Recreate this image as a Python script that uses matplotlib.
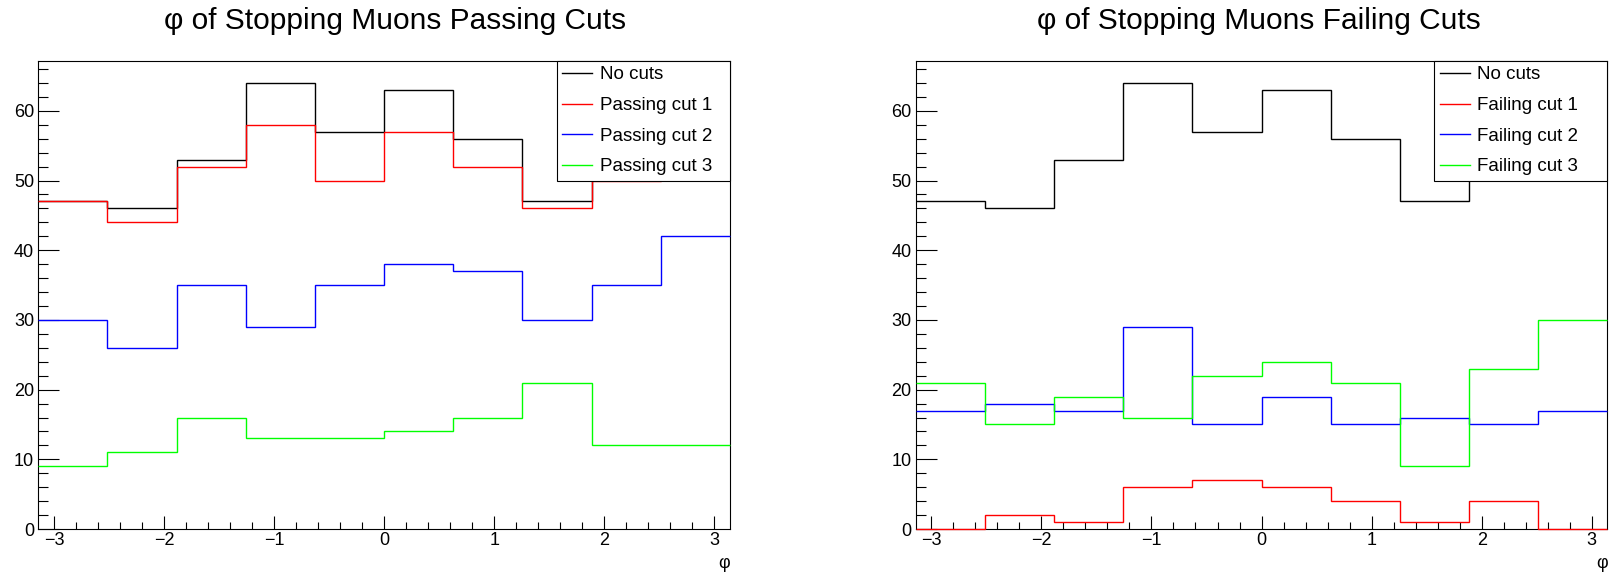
import numpy as np
import matplotlib
matplotlib.use("Agg")
import matplotlib.pyplot as plt
from matplotlib.ticker import MultipleLocator
from matplotlib.lines import Line2D

plt.rcParams['font.family'] = ['Liberation Sans', 'DejaVu Sans']

# ---- data (10 bins in phi from -pi to pi) ----
n_bins = 10
no_cuts = [47, 46, 53, 64, 57, 63, 56, 47, 54, 59]
passing_cut1 = [47, 44, 52, 58, 50, 57, 52, 46, 50, 59]
passing_cut2 = [30, 26, 35, 29, 35, 38, 37, 30, 35, 42]
passing_cut3 = [9, 11, 16, 13, 13, 14, 16, 21, 12, 12]
failing_cut1 = [0, 2, 1, 6, 7, 6, 4, 1, 4, 0]
failing_cut2 = [17, 18, 17, 29, 15, 19, 15, 16, 15, 17]
failing_cut3 = [21, 15, 19, 16, 22, 24, 21, 9, 23, 30]

titles = ["\u03c6 of Stopping Muons Passing Cuts", "\u03c6 of Stopping Muons Failing Cuts"]
left_labels = ["No cuts", "Passing cut 1", "Passing cut 2", "Passing cut 3"]
right_labels = ["No cuts", "Failing cut 1", "Failing cut 2", "Failing cut 3"]
colors = ["#000000", "#ff0000", "#0000ff", "#00ff00"]
xlabel = "\u03c6"

edges = np.linspace(-np.pi, np.pi, n_bins + 1)
ymax = max(no_cuts) * 1.05

W, H = 1610, 574
fig = plt.figure(figsize=(W / 100, H / 100), dpi=100)
ax_w = 691.7 / W
ax_h = 468.3 / H
ax_b = 45 / H
ax1 = fig.add_axes([38.3 / W, ax_b, ax_w, ax_h])
ax2 = fig.add_axes([915.7 / W, ax_b, ax_w, ax_h])

panels = [
    (ax1, [no_cuts, passing_cut1, passing_cut2, passing_cut3], left_labels, titles[0], 395.3),
    (ax2, [no_cuts, failing_cut1, failing_cut2, failing_cut3], right_labels, titles[1], 1258.7),
]

for ax, series, labels, title, tx in panels:
    for vals, c in zip(series, colors):
        ax.stairs(vals, edges, baseline=None, color=c, lw=1.0, zorder=3, clip_on=False)
    ax.set_xlim(-np.pi, np.pi)
    ax.set_ylim(0, ymax)
    ax.xaxis.set_major_locator(MultipleLocator(1))
    ax.xaxis.set_minor_locator(MultipleLocator(0.2))
    ax.yaxis.set_major_locator(MultipleLocator(10))
    ax.yaxis.set_minor_locator(MultipleLocator(2))
    ax.tick_params(axis='x', which='major', direction='in', length=9.7, width=0.8,
                   labelsize=13, pad=2.5, top=False)
    ax.tick_params(axis='x', which='minor', direction='in', length=4.8, width=0.8, top=False)
    ax.tick_params(axis='y', which='major', direction='in', length=15, width=0.8,
                   labelsize=13, pad=3, right=False)
    ax.tick_params(axis='y', which='minor', direction='in', length=7.5, width=0.8, right=False)
    for sp in ax.spines.values():
        sp.set_linewidth(0.8)
        sp.set_color('black')
    ax.set_xlabel(xlabel, loc='right', fontsize=13, labelpad=4)

    handles = [Line2D([], [], color=c, lw=1.0) for c in colors]
    lw_frac = 173.3 / 691.7
    leg = ax.legend(handles, labels, loc='upper right',
                    bbox_to_anchor=(1 - lw_frac, 0.0, lw_frac, 1.0), mode='expand',
                    borderaxespad=0, fancybox=False, framealpha=1, edgecolor='black',
                    fontsize=13.5, handlelength=1.6, handletextpad=0.4, borderpad=0.3,
                    labelspacing=0.72)
    leg.get_frame().set_linewidth(0.8)

    fig.text(tx / W, 1 - 21 / H, title, ha='center', va='center', fontsize=21.5)

fig.savefig("out.png", dpi=100)
